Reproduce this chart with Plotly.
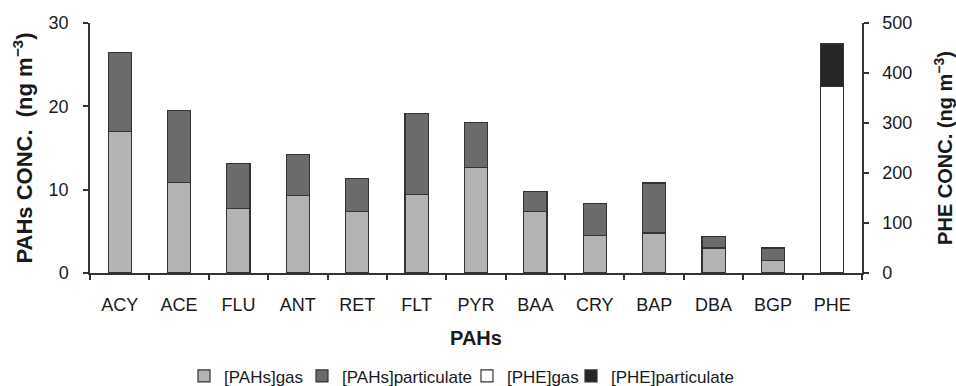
import plotly.graph_objects as go

categories = ["ACY", "ACE", "FLU", "ANT", "RET", "FLT", "PYR", "BAA", "CRY", "BAP", "DBA", "BGP", "PHE"]
pah_names = ["ACY", "ACE", "FLU", "ANT", "RET", "FLT", "PYR", "BAA", "CRY", "BAP", "DBA", "BGP"]
pah_gas = [17.0, 10.9, 7.7, 9.3, 7.4, 9.4, 12.7, 7.4, 4.5, 4.8, 3.0, 1.5]
pah_particulate = [9.5, 8.6, 5.4, 4.9, 3.9, 9.7, 5.4, 2.4, 3.8, 6.0, 1.4, 1.5]
phe_names = ["PHE"]
phe_gas = [373]
phe_particulate = [85]

FONT = "Liberation Sans, Arial, sans-serif"
TXT = "#1a1a1a"
EDGE = "#333333"

fig = go.Figure()
fig.add_trace(go.Bar(x=pah_names, y=pah_gas, name="[PAHs]gas", legend="legend",
                     marker=dict(color="#b3b3b3", line=dict(color=EDGE, width=1.2)), yaxis="y"))
fig.add_trace(go.Bar(x=pah_names, y=pah_particulate, name="[PAHs]particulate", legend="legend2",
                     marker=dict(color="#6b6b6b", line=dict(color=EDGE, width=1.2)), yaxis="y"))
fig.add_trace(go.Bar(x=phe_names, y=phe_gas, name="[PHE]gas", legend="legend3",
                     marker=dict(color="#ffffff", line=dict(color=EDGE, width=1.2)), yaxis="y2"))
fig.add_trace(go.Bar(x=phe_names, y=phe_particulate, name="[PHE]particulate", legend="legend4",
                     marker=dict(color="#262626", line=dict(color=EDGE, width=1.2)), yaxis="y2"))

def leg(px):
    return dict(orientation="h", x=px / 956, xanchor="left", xref="container",
                yref="container", y=0.025, yanchor="middle", font=dict(size=17),
                itemwidth=30, bgcolor="rgba(0,0,0,0)")

fig.update_layout(
    width=956, height=386,
    margin=dict(l=90, r=94, t=23, b=113, autoexpand=False),
    paper_bgcolor="white", plot_bgcolor="white",
    barmode="stack", bargap=0.61,
    font=dict(family=FONT, size=18, color=TXT),
    xaxis=dict(
        categoryorder="array", categoryarray=categories,
        showline=True, linecolor=EDGE, linewidth=1.5,
        ticks="outside", ticklen=5, tickcolor=EDGE, tickwidth=1.5,
        tickson="boundaries", ticklabelstandoff=15,
        tickfont=dict(size=18), automargin=False,
        title=dict(text="<b>PAHs</b>", font=dict(size=20), standoff=17),
        showgrid=False, zeroline=False,
    ),
    yaxis=dict(
        range=[0, 30], dtick=10,
        showline=True, linecolor=EDGE, linewidth=1.5,
        ticks="outside", ticklen=5, tickcolor=EDGE, tickwidth=1.5,
        tickfont=dict(size=18), ticklabelstandoff=11, automargin=False,
        title=dict(text="<b>PAHs CONC.  (ng m<sup>−3</sup>)</b>", font=dict(size=22), standoff=10),
        showgrid=False, zeroline=False,
    ),
    yaxis2=dict(
        range=[0, 500], dtick=100, overlaying="y", side="right",
        showline=True, linecolor=EDGE, linewidth=1.5,
        ticks="outside", ticklen=5, tickcolor=EDGE, tickwidth=1.5,
        tickfont=dict(size=18), ticklabelstandoff=10, automargin=False,
        title=dict(text="<b>PHE CONC. (ng m<sup>−3</sup>)</b>", font=dict(size=20), standoff=30),
        showgrid=False, zeroline=False,
    ),
    legend=leg(184),
    legend2=leg(302),
    legend3=leg(467),
    legend4=leg(571),
    showlegend=True,
)

fig.write_html("out.html")
